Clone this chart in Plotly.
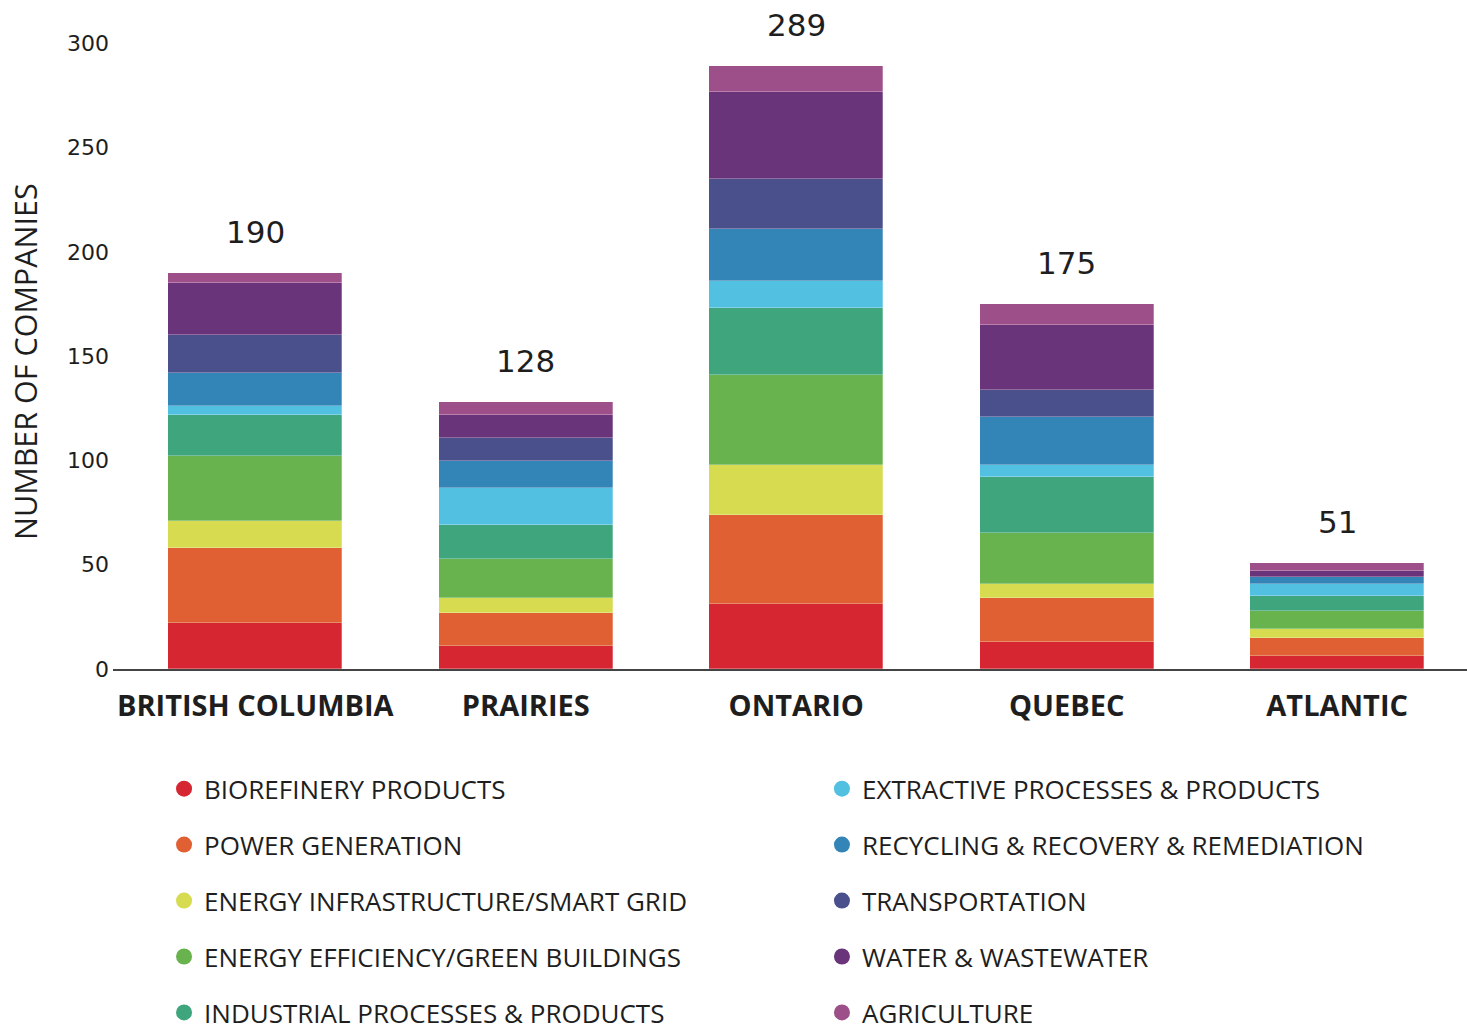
import plotly.graph_objects as go

# Regions along the x axis
regions = ["BRITISH COLUMBIA", "PRAIRIES", "ONTARIO", "QUEBEC", "ATLANTIC"]

# Company counts per sector, one value per region (stacked bottom to top)
biorefinery = [22, 11, 31, 13, 6]
power_generation = [36, 16, 43, 21, 9]
energy_infrastructure = [13, 7, 24, 7, 4]
energy_efficiency = [31, 19, 43, 24, 9]
industrial = [20, 16, 32, 27, 7]
extractive = [4, 18, 13, 6, 6]
recycling = [16, 13, 25, 23, 3]
transportation = [18, 11, 24, 13, 0]
water = [25, 11, 42, 31, 3]
agriculture = [5, 6, 12, 10, 4]

sector_names = [
    "BIOREFINERY PRODUCTS",
    "POWER GENERATION",
    "ENERGY INFRASTRUCTURE/SMART GRID",
    "ENERGY EFFICIENCY/GREEN BUILDINGS",
    "INDUSTRIAL PROCESSES & PRODUCTS",
    "EXTRACTIVE PROCESSES & PRODUCTS",
    "RECYCLING & RECOVERY & REMEDIATION",
    "TRANSPORTATION",
    "WATER & WASTEWATER",
    "AGRICULTURE",
]
sector_values = [
    biorefinery, power_generation, energy_infrastructure, energy_efficiency,
    industrial, extractive, recycling, transportation, water, agriculture,
]
sector_colors = [
    "#d62631", "#e05f33", "#d6db4f", "#69b34f", "#3fa57d",
    "#52c0e1", "#3485b7", "#49508c", "#693479", "#9d4f8a",
]

totals = [sum(v[i] for v in sector_values) for i in range(len(regions))]

LABEL_FONT = "Open Sans"
NUM_FONT = "DejaVu Sans"
TEXT_COLOR = "#1e1e1e"

fig = go.Figure()

for name, vals, col in zip(sector_names, sector_values, sector_colors):
    fig.add_trace(go.Bar(
        x=regions, y=vals, name=name,
        marker=dict(color=col, line=dict(width=0.8, color="rgba(255,255,255,0.35)")),
        width=0.643, showlegend=False, legendgroup=name,
        hovertemplate="%{x}<br>" + name + ": %{y}<extra></extra>",
    ))

# Circle markers for the two-column legend
for i, (name, col) in enumerate(zip(sector_names, sector_colors)):
    fig.add_trace(go.Scatter(
        x=[None], y=[None], mode="markers", name=name,
        marker=dict(color=col, size=16, symbol="circle"),
        legendgroup=name, showlegend=True,
        legend="legend" if i < 5 else "legend2",
    ))

# Totals above each stack
for reg, tot in zip(regions, totals):
    fig.add_annotation(
        x=reg, y=tot, text=str(tot), showarrow=False,
        yanchor="middle", yshift=41,
        font=dict(family=NUM_FONT, size=31, color=TEXT_COLOR),
    )

# Vertical axis title
fig.add_annotation(
    xref="paper", yref="paper", x=-0.065, y=0.4897,
    text="NUMBER OF COMPANIES", textangle=-90, showarrow=False,
    xanchor="center", yanchor="middle",
    font=dict(family=LABEL_FONT, size=30.5, color=TEXT_COLOR),
)

legend_common = dict(
    orientation="v", traceorder="grouped", tracegroupgap=19.15,
    font=dict(family=LABEL_FONT, size=26, color=TEXT_COLOR),
    bgcolor="rgba(0,0,0,0)", yanchor="top", xanchor="left",
    itemclick=False, itemdoubleclick=False,
)

fig.update_layout(
    width=1467, height=1030,
    margin=dict(l=113, r=0, t=40, b=361, autoexpand=False),
    paper_bgcolor="white", plot_bgcolor="white",
    barmode="stack", bargap=0,
    legend=dict(x=0.0377, y=-0.153, **legend_common),
    legend2=dict(x=0.5236, y=-0.153, **legend_common),
    xaxis=dict(
        type="category", range=[-0.526, 4.48],
        showline=True, linecolor="#444444", linewidth=2,
        showgrid=False, zeroline=False, ticks="",
        ticklabelstandoff=10,
        tickfont=dict(family=LABEL_FONT, size=29, color=TEXT_COLOR, weight="bold"),
    ),
    yaxis=dict(
        range=[0, 301.7], tickmode="array",
        tickvals=[0, 50, 100, 150, 200, 250, 300],
        showline=False, showgrid=False, zeroline=False, ticks="",
        ticklabelstandoff=3,
        tickfont=dict(family=NUM_FONT, size=22, color=TEXT_COLOR),
    ),
    showlegend=True,
)

fig.write_html("out.html")
